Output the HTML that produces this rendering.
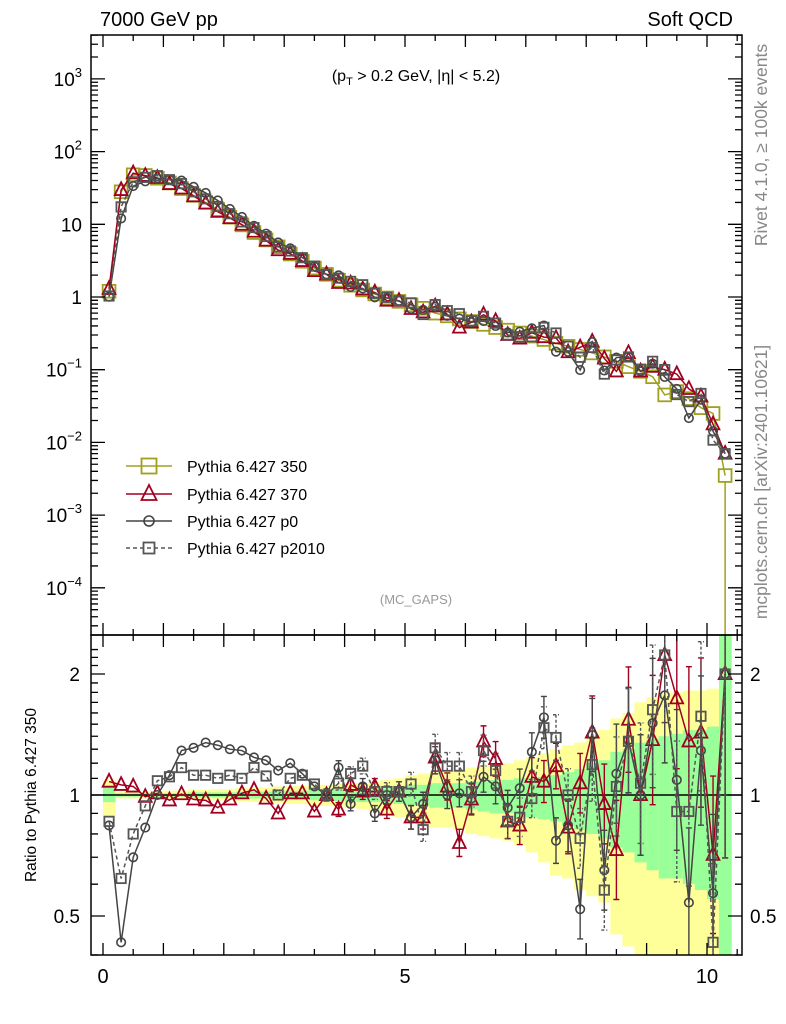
<!DOCTYPE html>
<html><head><meta charset="utf-8"><style>
html,body{margin:0;padding:0;background:#fff;}
svg{display:block;font-family:"Liberation Sans",sans-serif;}
</style></head><body>
<svg id="c" width="786" height="1024" viewBox="0 0 786 1024" xmlns="http://www.w3.org/2000/svg">
<defs>
<clipPath id="cm"><rect x="91" y="35" width="651" height="600"/></clipPath>
<clipPath id="cr"><rect x="91" y="635" width="651" height="320"/></clipPath>
</defs>
<text x="100" y="26" font-size="20">7000 GeV pp</text>
<text x="733" y="26" font-size="20" text-anchor="end">Soft QCD</text>
<text x="416" y="81" font-size="16" text-anchor="middle">(p<tspan font-size="11" dy="4">T</tspan><tspan dy="-4"> &gt; 0.2 GeV, |η| &lt; 5.2)</tspan></text>
<text x="416" y="604" font-size="13" fill="#999" text-anchor="middle">(MC_GAPS)</text>
<text transform="translate(767,145) rotate(-90)" font-size="17.5" fill="#888" text-anchor="middle">Rivet 4.1.0, ≥ 100k events</text>
<text transform="translate(767,482) rotate(-90)" font-size="17.5" fill="#888" text-anchor="middle">mcplots.cern.ch [arXiv:2401.10621]</text>
<text transform="translate(36,795) rotate(-90)" font-size="15.5" text-anchor="middle">Ratio to Pythia 6.427 350</text>
<g id="bands" clip-path="url(#cr)"></g>
<g id="main" clip-path="url(#cm)"></g>
<g id="ratio" clip-path="url(#cr)"></g>
<g id="axes"></g>
<g id="legend"></g>
</svg>
<script>
const xs=[0.1,0.3,0.5,0.7,0.9,1.1,1.3,1.5,1.7,1.9,2.1,2.3,2.5,2.7,2.9,3.1,3.3,3.5,3.7,3.9,4.1,4.3,4.5,4.7,4.9,5.1,5.3,5.5,5.7,5.9,6.1,6.3,6.5,6.7,6.9,7.1,7.3,7.5,7.7,7.9,8.1,8.3,8.5,8.7,8.9,9.1,9.3,9.5,9.7,9.9,10.1,10.3];
const ref350=[1.2,28,48,47,43,37,31,25,20,16,12.5,9.8,7.7,6.1,4.9,3.9,3.1,2.5,2.05,1.7,1.45,1.25,1.1,0.97,0.87,0.78,0.7,0.6,0.55,0.5,0.46,0.42,0.38,0.35,0.32,0.29,0.26,0.23,0.21,0.19,0.17,0.15,0.13,0.11,0.095,0.08,0.045,0.05,0.04,0.03,0.025,0.0035];
const r370=[1.08,1.06,1.05,0.99,1.01,0.97,1.005,0.975,0.97,0.93,0.975,1.01,1.03,0.98,0.9,1.01,1.01,0.91,1.0,0.92,1.06,1.02,1.05,0.92,1.02,0.88,0.88,1.24,1.05,0.76,0.975,1.36,1.23,0.86,0.84,1.11,1.08,1.18,0.83,1.07,1.43,0.95,0.73,1.54,1.0,1.37,2.23,1.74,1.36,1.43,0.71,2.0];
const rp0=[0.84,0.43,0.70,0.83,1.0,1.12,1.29,1.31,1.35,1.33,1.30,1.29,1.24,1.22,1.15,1.20,1.13,1.05,1.0,1.17,0.95,1.05,0.90,1.0,1.02,0.88,0.95,1.22,1.0,1.01,0.98,1.11,1.05,0.93,1.04,1.28,1.56,0.77,0.84,0.52,1.41,0.65,1.13,1.37,1.0,1.51,1.77,1.09,0.54,1.29,0.57,2.0];
const rp2010=[0.86,0.62,0.80,0.94,1.085,1.11,1.17,1.12,1.12,1.10,1.12,1.10,1.17,1.115,1.0,1.10,1.12,1.065,1.0,1.07,1.13,1.18,1.02,1.02,1.02,1.065,0.82,1.31,1.18,1.18,1.02,1.29,1.15,0.86,0.88,0.98,1.47,1.39,1.0,0.78,1.19,0.58,1.05,1.36,1.07,1.63,2.23,0.91,0.91,1.57,0.43,2.0];
const yelHi=[1.09,1.02,1.02,1.02,1.02,1.025,1.025,1.03,1.03,1.035,1.035,1.04,1.04,1.045,1.05,1.05,1.055,1.06,1.06,1.065,1.07,1.07,1.08,1.09,1.1,1.12,1.13,1.14,1.15,1.16,1.17,1.18,1.19,1.2,1.22,1.24,1.27,1.3,1.33,1.35,1.4,1.45,1.55,1.6,1.7,1.75,1.8,1.8,1.82,1.82,1.84,2.5];
const yelLo=[0.88,0.98,0.98,0.98,0.98,0.975,0.975,0.975,0.97,0.97,0.97,0.965,0.96,0.96,0.955,0.95,0.95,0.94,0.94,0.935,0.93,0.92,0.91,0.9,0.88,0.86,0.84,0.83,0.83,0.82,0.8,0.79,0.78,0.77,0.75,0.72,0.68,0.63,0.62,0.58,0.56,0.54,0.45,0.42,0.3,0.3,0.3,0.3,0.3,0.3,0.3,0.3];
const grnHi=[1.05,1.01,1.01,1.01,1.01,1.01,1.01,1.015,1.015,1.015,1.015,1.02,1.02,1.02,1.02,1.025,1.025,1.03,1.03,1.035,1.035,1.04,1.04,1.045,1.05,1.06,1.06,1.07,1.07,1.07,1.08,1.08,1.09,1.09,1.1,1.1,1.11,1.12,1.14,1.16,1.2,1.22,1.28,1.3,1.35,1.38,1.4,1.42,1.45,1.45,1.48,2.5];
const grnLo=[0.96,0.99,0.99,0.99,0.99,0.99,0.99,0.985,0.985,0.985,0.985,0.98,0.98,0.98,0.98,0.975,0.975,0.97,0.97,0.965,0.965,0.96,0.96,0.955,0.95,0.94,0.94,0.93,0.93,0.93,0.92,0.91,0.9,0.9,0.88,0.88,0.87,0.86,0.84,0.82,0.8,0.78,0.74,0.72,0.68,0.65,0.62,0.62,0.6,0.58,0.55,0.3];
const xTicks=[0,5,10];
const mainTicks=[3,2,1,0,-1,-2,-3,-4];
const ratioTicks=[0.5,1,2];

const NS="http://www.w3.org/2000/svg";
const X=v=>103+60.4*v;
const YM=v=>297-72.7*Math.log10(v);
const YR=v=>795-402*Math.log10(v);
function mk(p,t,a){const e=document.createElementNS(NS,t);for(const k in a)e.setAttribute(k,a[k]);p.appendChild(e);return e;}
const gB=document.getElementById('bands'),gM=document.getElementById('main'),gR=document.getElementById('ratio'),gA=document.getElementById('axes'),gL=document.getElementById('legend');

xs.forEach((x,i)=>{
 let r=mk(gB,'rect',{x:X(x-0.1),y:YR(yelHi[i]),width:60.4*0.2+0.5,height:YR(yelLo[i])-YR(yelHi[i]),fill:'#ffff99'});
 
 
 let g=mk(gB,'rect',{x:X(x-0.1),y:YR(grnHi[i]),width:60.4*0.2+0.5,height:YR(grnLo[i])-YR(grnHi[i]),fill:'#99ff99'});
 
 
});
let ref=mk(gR,'line',{x1:91,x2:742,y1:YR(1),y2:YR(1),stroke:'#000','stroke-width':1.5});



function marker(g,type,cx,cy,col,s){
 let m;
 if(type==='sq') m=mk(g,'rect',{x:cx-s/2,y:cy-s/2,width:s,height:s,fill:'none',stroke:col,'stroke-width':1.8});
 else if(type==='tri') m=mk(g,'polygon',{points:`${cx},${cy-s*0.6} ${cx-s/2},${cy+s*0.4} ${cx+s/2},${cy+s*0.4}`,fill:'none',stroke:col,'stroke-width':1.8});
 else m=mk(g,'circle',{cx:cx,cy:cy,r:s/2,fill:'none',stroke:col,'stroke-width':1.6});
 return m;
}
const series=[
 {name:'p350',r:xs.map(()=>1),col:'#a0a020',type:'sq',s:15,dash:null},
 {name:'p370',r:r370,col:'#a00020',type:'tri',s:15,dash:null},
 {name:'p0',r:rp0,col:'#444',type:'circ',s:10,dash:null},
 {name:'p2010',r:rp2010,col:'#555',type:'sq',s:11,dash:'4,3'},
];
series.forEach((S,si)=>{
 const ptsM=xs.map((x,i)=>[X(x),YM(ref350[i]*S.r[i])]);
 let l=mk(gM,'polyline',{points:ptsM.map(p=>p.join(',')).join(' '),fill:'none',stroke:S.col,'stroke-width':1.5});
 if(S.dash)l.setAttribute('stroke-dasharray',S.dash);
 
 
 ptsM.forEach(p=>{const m=marker(gM,S.type,p[0],p[1],S.col,S.s*0.85);
  
  });
 if(si===0){let v=mk(gM,'line',{x1:X(10.3),x2:X(10.3),y1:YM(0.0035)+7,y2:635,stroke:S.col,'stroke-width':1.5});
  
  }
 if(si>0){
  const ptsR=xs.map((x,i)=>[X(x),YR(S.r[i])]);
  let lr=mk(gR,'polyline',{points:ptsR.map(p=>p.join(',')).join(' '),fill:'none',stroke:S.col,'stroke-width':1.5});
  if(S.dash)lr.setAttribute('stroke-dasharray',S.dash);
  
  
  ptsR.forEach((p,i)=>{
   if(xs[i]>3.6){const e=Math.log10(grnHi[i])*1.15;
    let eb=mk(gR,'path',{d:`M${p[0]},${YR(S.r[i]*Math.pow(10,e))}V${YR(S.r[i]/Math.pow(10,e))}M${p[0]-3},${YR(S.r[i]*Math.pow(10,e))}h6M${p[0]-3},${YR(S.r[i]/Math.pow(10,e))}h6`,stroke:S.col,'stroke-width':1.4,fill:'none'});
    if(S.dash)eb.setAttribute('stroke-dasharray','3,2');
    
    }
   const m=marker(gR,S.type,p[0],p[1],S.col,S.s*0.85);
   
   
  });
 }
});

let f1=mk(gA,'rect',{x:91,y:35,width:651,height:600,fill:'none',stroke:'#000','stroke-width':1.5});


let f2=mk(gA,'rect',{x:91,y:635,width:651,height:320,fill:'none',stroke:'#000','stroke-width':1.5});


let tp='';
for(let v=0;v<=10.5;v+=0.5){const x=X(v);const L=(Math.abs(v-Math.round(v))<1e-6)?12:6;
 tp+=`M${x},955v${-L}M${x},635v${-L}M${x},635v${L}M${x},35v${L}`;}
for(let d=-5;d<=3;d++){for(let k=1;k<10;k++){const y=YM(k*Math.pow(10,d));if(y<35||y>635)continue;const L=k===1?14:7;
 tp+=`M91,${y}h${L}M742,${y}h${-L}`;}}
for(let k=3;k<=23;k++){const v=k/10;const y=YR(v);if(y<635||y>955)continue;const L=(v===1||v===2||v===0.5)?14:7;
 tp+=`M91,${y}h${L}M742,${y}h${-L}`;}
let tk=mk(gA,'path',{d:tp,stroke:'#000','stroke-width':1.3,fill:'none'});


xTicks.forEach(v=>{let t=mk(gA,'text',{x:X(v),y:983,'font-size':20,'text-anchor':'middle'});t.textContent=v;
 
 });
mainTicks.forEach(d=>{let t=mk(gA,'text',{x:82,y:YM(Math.pow(10,d))+7,'font-size':19,'text-anchor':'end'});
 if(d===0)t.textContent='1';else if(d===1)t.textContent='10';
 else{t.textContent='10';let s=mk(t,'tspan',{'font-size':13,dy:-9});s.textContent=(d<0?'−':'')+Math.abs(d);}
 
 });
ratioTicks.forEach(v=>{[[80,'end'],[750,'start']].forEach(([x,a])=>{let t=mk(gA,'text',{x:x,y:YR(v)+7,'font-size':19,'text-anchor':a});t.textContent=v;
 
 });});

const legNames=['Pythia 6.427 350','Pythia 6.427 370','Pythia 6.427 p0','Pythia 6.427 p2010'];
const legY=[466,494,521,548];
series.forEach((S,i)=>{
 let g=mk(gL,'g',{});
 
 
 let l=mk(g,'line',{x1:126,x2:172,y1:legY[i],y2:legY[i],stroke:S.col,'stroke-width':1.5});
 if(S.dash)l.setAttribute('stroke-dasharray',S.dash);
 marker(g,S.type,149,legY[i],S.col,S.s);
 let t=mk(g,'text',{x:187,y:legY[i]+6,'font-size':16});t.textContent=legNames[i];
});
</script>
</body></html>
